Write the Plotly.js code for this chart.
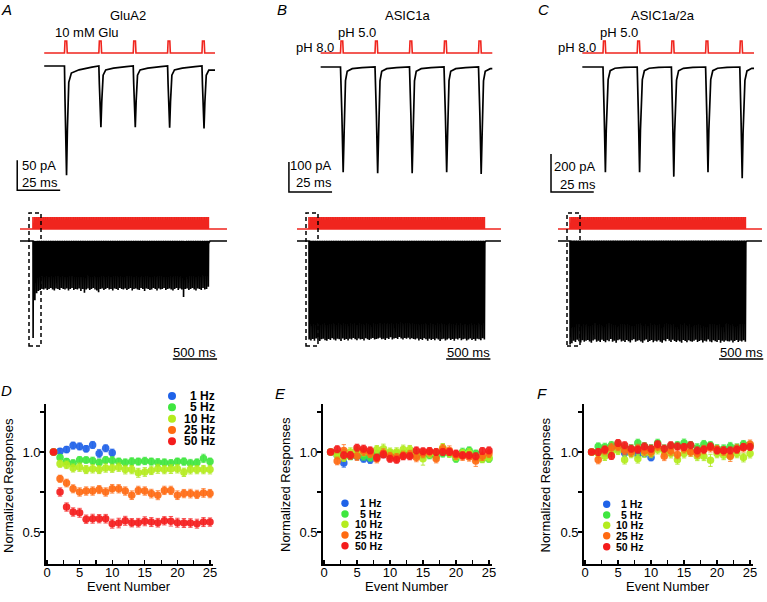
<!DOCTYPE html>
<html><head><meta charset="utf-8">
<script src="https://cdn.plot.ly/plotly-3.0.1.min.js"></script>
<style>html,body{margin:0;padding:0;background:#fff}#chart{width:767px;height:602px}</style>
</head><body><div id="chart"></div>
<script>
// ===================== DATA =====================
const eventNumber = [1,2,3,4,5,6,7,8,9,10,11,12,13,14,15,16,17,18,19,20,21,22,23,24,25];
const eventNumber1Hz = [1,2,3,4,5,6,7,8,9,10];
const freqLabels = ['1 Hz','5 Hz','10 Hz','25 Hz','50 Hz'];
const xTickVals = [0,2.5,5,7.5,10,12.5,15,17.5,20,22.5,25];
const xTickText = ['0','','5','','10','','15','','20','','25'];
const yTickVals = [0.5,0.75,1.0,1.25];
const yTickText = ['0.5','','1.0',''];

// Panel D: GluA2 normalized responses
const D_1Hz  = [1.00,1.004,1.015,1.04,1.035,1.02,1.044,0.99,1.023,0.996];
const D_5Hz  = [1.00,0.965,0.94,0.93,0.95,0.95,0.946,0.935,0.95,0.947,0.94,0.935,0.94,0.94,0.944,0.94,0.935,0.935,0.93,0.94,0.94,0.93,0.935,0.96,0.94];
const D_10Hz = [1.00,0.927,0.92,0.90,0.905,0.89,0.895,0.89,0.90,0.898,0.905,0.89,0.89,0.87,0.875,0.885,0.895,0.89,0.893,0.895,0.873,0.89,0.89,0.89,0.89];
const D_25Hz = [1.00,0.833,0.806,0.77,0.75,0.756,0.756,0.765,0.75,0.77,0.77,0.756,0.73,0.76,0.756,0.74,0.73,0.76,0.76,0.73,0.74,0.74,0.735,0.744,0.74];
const D_50Hz = [1.00,0.75,0.656,0.625,0.62,0.58,0.583,0.583,0.583,0.552,0.556,0.57,0.558,0.558,0.567,0.562,0.558,0.57,0.567,0.558,0.556,0.556,0.552,0.562,0.562];
const D_1Hz_err  = [0,0.018,0.02,0.022,0.022,0.02,0.022,0.026,0.022,0.022];
const D_5Hz_err  = [0,0.02,0.02,0.022,0.022,0.02,0.022,0.021,0.022,0.024,0.022,0.022,0.024,0.022,0.023,0.022,0.024,0.022,0.023,0.022,0.023,0.024,0.022,0.026,0.022];
const D_10Hz_err = [0,0.022,0.024,0.025,0.026,0.025,0.026,0.025,0.026,0.025,0.026,0.027,0.026,0.028,0.027,0.026,0.028,0.026,0.027,0.026,0.026,0.027,0.026,0.026,0.027];
const D_25Hz_err = [0,0.022,0.024,0.025,0.026,0.026,0.026,0.025,0.026,0.027,0.026,0.026,0.027,0.026,0.026,0.027,0.028,0.026,0.026,0.027,0.026,0.027,0.026,0.027,0.026];
const D_50Hz_err = [0,0.026,0.026,0.026,0.028,0.026,0.028,0.026,0.027,0.028,0.03,0.028,0.026,0.027,0.028,0.028,0.027,0.026,0.03,0.028,0.028,0.027,0.028,0.028,0.026];

// Panel E: ASIC1a normalized responses
const E_1Hz  = [1.0,0.98,0.931,0.975,0.973,0.958,0.952,0.975,0.985,0.99];
const E_5Hz  = [1.0,0.99,0.994,0.973,0.979,0.973,0.965,0.99,0.99,0.99,0.99,0.99,0.99,0.979,0.979,0.979,0.973,0.99,0.99,0.958,1.0,1.01,0.99,0.958,0.958];
const E_10Hz = [1.0,0.979,0.965,1.0,1.01,1.0,0.994,1.015,1.021,1.0,1.0,1.015,1.015,0.99,0.958,0.99,0.994,1.027,0.994,0.973,0.99,0.994,0.965,0.958,0.965];
const E_25Hz = [1.0,0.944,1.01,0.979,0.973,1.004,0.99,0.958,0.994,0.973,0.965,0.979,0.985,0.965,0.99,1.0,0.958,1.021,1.01,0.979,0.973,0.969,0.944,0.973,0.99];
const E_50Hz = [1.0,1.017,0.979,0.979,1.027,1.021,1.01,0.965,0.985,0.958,0.952,0.973,0.973,1.01,1.004,1.006,1.0,1.0,1.0,0.99,0.979,0.979,0.973,1.006,1.01];
const E_1Hz_err  = [0,0.02,0.026,0.02,0.022,0.022,0.024,0.022,0.02,0.02];
const E_5Hz_err  = [0,0.02,0.022,0.022,0.022,0.024,0.022,0.022,0.022,0.024,0.022,0.022,0.024,0.022,0.022,0.022,0.024,0.022,0.022,0.022,0.024,0.022,0.022,0.022,0.022];
const E_10Hz_err = [0,0.022,0.024,0.026,0.026,0.025,0.026,0.025,0.028,0.025,0.026,0.028,0.026,0.025,0.04,0.026,0.025,0.026,0.027,0.026,0.025,0.027,0.026,0.025,0.026];
const E_25Hz_err = [0,0.024,0.036,0.025,0.026,0.026,0.025,0.026,0.026,0.025,0.026,0.026,0.025,0.026,0.026,0.025,0.026,0.026,0.028,0.025,0.026,0.026,0.034,0.026,0.025];
const E_50Hz_err = [0,0.022,0.022,0.022,0.022,0.022,0.022,0.022,0.022,0.022,0.022,0.022,0.022,0.022,0.022,0.022,0.022,0.022,0.022,0.022,0.022,0.022,0.022,0.022,0.022];

// Panel F: ASIC1a/2a normalized responses
const F_1Hz  = [1.0,1.0,0.994,1.027,1.021,0.994,1.0,0.985,0.99,0.965];
const F_5Hz  = [1.0,1.035,1.031,1.042,1.048,1.027,1.021,1.056,1.035,1.021,1.056,1.021,1.035,1.042,1.056,1.042,1.027,1.048,1.042,1.021,1.021,1.035,1.027,1.048,1.042];
const F_10Hz = [1.0,0.99,0.973,1.0,1.01,0.952,0.99,0.958,0.994,0.99,1.015,1.0,0.99,0.952,0.99,1.0,0.973,0.973,0.948,0.99,0.979,0.979,0.99,0.965,0.99];
const F_25Hz = [1.0,0.952,1.01,1.027,1.035,1.01,1.0,1.021,1.006,1.0,1.035,0.973,1.006,0.985,1.021,1.0,0.99,1.015,1.027,1.015,1.006,0.973,1.021,1.027,1.048];
const F_50Hz = [1.0,1.0,1.015,0.975,1.056,1.042,1.021,1.015,1.035,1.021,1.048,1.021,1.042,1.035,1.031,1.042,1.01,1.015,1.035,1.01,1.01,1.01,1.015,1.031,1.031];
const F_1Hz_err  = [0,0.02,0.022,0.02,0.022,0.022,0.022,0.022,0.02,0.02];
const F_5Hz_err  = [0,0.022,0.024,0.024,0.025,0.024,0.025,0.024,0.024,0.025,0.024,0.024,0.025,0.024,0.025,0.024,0.025,0.024,0.024,0.025,0.024,0.025,0.024,0.024,0.025];
const F_10Hz_err = [0,0.024,0.026,0.027,0.026,0.027,0.026,0.027,0.027,0.026,0.027,0.026,0.027,0.028,0.027,0.026,0.027,0.027,0.038,0.026,0.027,0.027,0.026,0.027,0.027];
const F_25Hz_err = [0,0.026,0.027,0.027,0.027,0.026,0.027,0.027,0.026,0.027,0.027,0.027,0.026,0.027,0.027,0.026,0.027,0.027,0.027,0.026,0.027,0.032,0.027,0.027,0.027];
const F_50Hz_err = [0,0.022,0.022,0.022,0.022,0.022,0.022,0.022,0.022,0.022,0.022,0.022,0.022,0.022,0.022,0.022,0.022,0.022,0.022,0.022,0.022,0.022,0.022,0.022,0.022];

// Example current traces (top row): stimulus onsets (ms), peak currents (pA)
const pulseOnsetsTop = [0,20,40,60,80];
const peaksGluA2  = [182,102,102,103,104];
const peaksASIC1a = [351,354,354,351,357];
const peaksASIC12 = [554,554,577,554,586];
// normalized response waveforms (ms after onset, fraction of peak)
const shapeGluA2_t  = [0,0.3,1.2,1.7,2.0,2.5,4.0,8.5,16,19.5];
const shapeGluA2_f  = [0,0.3,1,0.58,0.3,0.15,0.065,0.035,0.01,0];
const shapeASIC1a_t = [0,0.8,1.55,2.1,2.5,2.9,3.9,6.8,12.5,19.5];
const shapeASIC1a_f = [0,0.45,1,0.63,0.32,0.13,0.04,0.016,0.006,0];
const shapeASIC12_t = [0,0.7,1.4,1.9,2.4,3.0,4.2,7,12.5,19.5];
const shapeASIC12_f = [0,0.45,1,0.6,0.3,0.12,0.035,0.012,0.004,0];
const stimShape_t = [0,0.3,1.3,1.6];
const stimShape_f = [0,1,1,0];
const topWindow = {A:[-11.8,87.6], B:[-11.5,88], C:[-12.1,88.3]};

// 2-s trains (middle row): 50 Hz, 100 pulses
const trainFreqHz = 50, trainPulses = 100;
const trainPeaksGluA2 = [
 182,111,98,94,92,90,91,89,92,90, 88,91,93,89,90,92,88,90,91,89,
 93,90,88,92,90,91,89,94,90,97, 91,89,92,90,88,91,93,96,90,89,
 92,90,88,91,90,93,89,90,92,88, 90,91,89,92,90,88,93,90,89,91,
 92,88,90,94,89,90,92,91,88,90, 93,89,91,90,88,92,90,89,91,93,
 90,88,92,89,91,105,90,89,92,90, 88,91,93,89,90,92,88,91,90,86];
const trainPeaksASIC1a = [
 352,355,350,356,348,353,357,351,349,354, 356,350,353,347,352,355,349,351,357,348,
 353,350,355,349,352,346,351,354,348,352, 350,355,347,351,353,349,346,352,350,348,
 345,351,349,353,347,350,344,352,348,346, 350,343,348,352,346,349,345,351,347,350,
 352,348,355,350,353,347,351,356,349,353, 350,354,348,352,357,351,349,355,352,348,
 353,350,356,349,352,347,354,351,349,355, 352,348,353,350,356,349,351,354,347,352];
const trainPeaksASIC12 = [
 582,575,560,568,555,563,570,558,566,561, 556,564,571,559,553,566,560,568,555,562,
 569,557,563,551,566,560,572,558,554,565, 561,568,556,563,570,558,552,566,561,557,
 564,571,559,553,567,562,556,569,560,565, 558,566,572,557,563,550,561,568,555,562,
 567,559,564,571,556,562,569,557,563,566, 560,555,568,562,557,570,561,565,553,564,
 569,558,563,567,556,572,560,566,559,563, 565,559,570,562,556,568,561,564,557,566];
const midWindow = {A:[-146.9,2192], B:[-135.6,2169], C:[-135.6,2169]};

// ===================== HELPERS =====================
const W = 767, H = 602;
const FONT = 'Liberation Sans, Arial, Helvetica, sans-serif';
const fx = p => p / W;
const fy = p => 1 - p / H;
const domX = (a, b) => [fx(a), fx(b)];
const domY = (top, bottom) => [fy(bottom), fy(top)];
const colors = ['#1f62e8','#3fe63f','#b4ec1e','#ff6a12','#f41c1c'];
const errColors = ['rgba(31,98,232,0.75)','rgba(63,230,63,0.75)','rgba(170,230,30,0.85)','rgba(255,106,18,0.75)','rgba(244,28,28,0.75)'];

function waveform(onsets, amps, shT, shF, win, sign) {
  const x = [win[0]], y = [0];
  onsets.forEach((t0, i) => {
    shT.forEach((dt, j) => {
      if (t0 + dt < win[1]) { x.push(t0 + dt); y.push(sign * amps[i] * shF[j]); }
    });
  });
  x.push(win[1]); y.push(y[y.length - 1]);
  return {x, y};
}

const traces = [];
const layout = {
  width: W, height: H, margin: {l:0, r:0, t:0, b:0}, showlegend: false,
  paper_bgcolor: '#fff', plot_bgcolor: 'rgba(0,0,0,0)',
  font: {family: FONT, size: 13, color: '#000'},
  shapes: [], annotations: []
};
function ann(text, x, y, o) {
  layout.annotations.push(Object.assign({text, x: fx(x), y: fy(y), xref:'paper', yref:'paper',
    showarrow:false, xanchor:'center', yanchor:'middle', font:{family:FONT, size:13, color:'#000'}}, o || {}));
}
function hidden(domain, range, anchor) {
  return {domain, range, anchor, visible:false, fixedrange:true, showgrid:false, zeroline:false};
}

// ===================== BOTTOM SCATTER PANELS =====================
const panels = [
  {n:'', xd:[45.7,212.6], data:[D_1Hz,D_5Hz,D_10Hz,D_25Hz,D_50Hz], err:[D_1Hz_err,D_5Hz_err,D_10Hz_err,D_25Hz_err,D_50Hz_err]},
  {n:'2', xd:[322.7,491.6], data:[E_1Hz,E_5Hz,E_10Hz,E_25Hz,E_50Hz], err:[E_1Hz_err,E_5Hz_err,E_10Hz_err,E_25Hz_err,E_50Hz_err]},
  {n:'3', xd:[583.7,752.7], data:[F_1Hz,F_5Hz,F_10Hz,F_25Hz,F_50Hz], err:[F_1Hz_err,F_5Hz_err,F_10Hz_err,F_25Hz_err,F_50Hz_err]}
];
panels.forEach(p => {
  layout['xaxis' + p.n] = {domain: domX(p.xd[0], p.xd[1]), range:[-0.2,25.4], anchor:'y' + p.n,
    tickvals:xTickVals, ticktext:xTickText, ticks:'inside', ticklen:4, tickwidth:1.2, tickcolor:'#000',
    ticklabelstandoff:-4,
    showline:true, linewidth:1.5, linecolor:'#000', showgrid:false, zeroline:false,
    tickfont:{family:FONT, size:13}, fixedrange:true};
  layout['yaxis' + p.n] = {domain: domY(404, 564), range:[0.3,1.3], anchor:'x' + p.n,
    tickvals:yTickVals, ticktext:yTickText, ticks:'outside', ticklen:4, tickwidth:1.2, tickcolor:'#000',
    ticklabelstandoff:-3,
    showline:true, linewidth:1.5, linecolor:'#000', showgrid:false, zeroline:false,
    tickfont:{family:FONT, size:13}, fixedrange:true};
  p.data.forEach((vals, k) => {
    traces.push({type:'scatter', mode:'markers', xaxis:'x' + p.n, yaxis:'y' + p.n,
      x: k === 0 ? eventNumber1Hz : eventNumber, y: vals, name: freqLabels[k],
      marker:{color:colors[k], size:7.5, opacity:0.92, line:{width:0}},
      error_y:{type:'data', array:p.err[k], visible:true, color:errColors[k], thickness:1, width:2.2},
      cliponaxis:false});
  });
});

// legends (swatches + labels)
const legendSpecs = [
  {mx:172, rows:[396,407.3,418.7,430,441.3], tx:216, size:12, r:4},
  {mx:345, rows:[503.3,514,524.3,535,545.7], tx:383, size:10.5, r:3.7},
  {mx:606.7, rows:[504.3,515,525.3,535.7,546.7], tx:644, size:10.5, r:3.7}
];
legendSpecs.forEach(L => {
  freqLabels.forEach((lab, k) => {
    const cy = L.rows[k];
    layout.shapes.push({type:'circle', xref:'paper', yref:'paper',
      x0:fx(L.mx - L.r), x1:fx(L.mx + L.r), y0:fy(cy + L.r), y1:fy(cy - L.r),
      fillcolor:colors[k], line:{width:0}});
    ann('<b>' + lab + '</b>', L.tx, cy, {xanchor:'right', borderpad:0, font:{family:FONT, size:L.size, color:'#000'}});
  });
});

// axis titles + panel letters for bottom row
[[8,486,129.2],[285,485,407.1],[544.5,485,668.2]].forEach(([yx, yy, xc]) => {
  ann('Normalized Responses', yx, yy, {textangle:-90});
  ann('Event Number', xc, 586);
});
ann('<i>D</i>', 6.7, 390.5, {font:{family:FONT, size:15, color:'#000'}});
ann('<i>E</i>', 280.7, 393.5, {font:{family:FONT, size:15, color:'#000'}});
ann('<i>F</i>', 541.7, 393.3, {font:{family:FONT, size:15, color:'#000'}});

// ===================== TOP ROW: EXAMPLE TRACES =====================
const topPanels = [
  {xa:'4', yc:'4', ys:'5', xd:[10,220], xr:[-31.7,90.5], yr:[-216.7,13.3], peaks:peaksGluA2, shT:shapeGluA2_t, shF:shapeGluA2_f, win:topWindow.A,
   bar:{x:-27.5, y:-207, pA:50, ms:25}},
  {xa:'5', yc:'6', ys:'7', xd:[280,500], xr:[-35.07,92.46], yr:[-430,30], peaks:peaksASIC1a, shT:shapeASIC1a_t, shF:shapeASIC1a_f, win:topWindow.B,
   bar:{x:-29.9, y:-416.7, pA:100, ms:25}},
  {xa:'6', yc:'8', ys:'9', xd:[540,762], xr:[-36.84,92.98], yr:[-678.9,47.4], peaks:peaksASIC12, shT:shapeASIC12_t, shF:shapeASIC12_f, win:topWindow.C,
   bar:{x:-30.4, y:-657.9, pA:200, ms:25}}
];
topPanels.forEach(p => {
  layout['xaxis' + p.xa] = hidden(domX(p.xd[0], p.xd[1]), p.xr, 'y' + p.yc);
  layout['yaxis' + p.yc] = hidden(domY(58,196), p.yr, 'x' + p.xa);
  layout['yaxis' + p.ys] = hidden(domY(37,57), [-0.333,1.333], 'x' + p.xa);
  const st = waveform(pulseOnsetsTop, pulseOnsetsTop.map(() => 1), stimShape_t, stimShape_f, p.win, 1);
  traces.push({type:'scatter', mode:'lines', x:st.x, y:st.y, xaxis:'x' + p.xa, yaxis:'y' + p.ys,
    line:{color:'#f0251e', width:1.6}, hoverinfo:'skip'});
  const cur = waveform(pulseOnsetsTop, p.peaks, p.shT, p.shF, p.win, -1);
  traces.push({type:'scatter', mode:'lines', x:cur.x, y:cur.y, xaxis:'x' + p.xa, yaxis:'y' + p.yc,
    line:{color:'#000', width:1.7}, hoverinfo:'skip'});
  const b = p.bar;
  layout.shapes.push({type:'path', xref:'x' + p.xa, yref:'y' + p.yc,
    path:`M ${b.x},${b.y + b.pA} L ${b.x},${b.y} L ${b.x + b.ms},${b.y}`, line:{color:'#000', width:1.5}});
});
// top labels
ann('<i>A</i>', 7, 9.5, {font:{family:FONT, size:15, color:'#000'}});
ann('<i>B</i>', 281.7, 9.5, {font:{family:FONT, size:15, color:'#000'}});
ann('<i>C</i>', 543, 9.5, {font:{family:FONT, size:15, color:'#000'}});
ann('GluA2', 128, 15.5);
ann('ASIC1a', 407.5, 15.5);
ann('ASIC1a/2a', 663.3, 15.5);
ann('10 mM Glu', 86.7, 33);
ann('pH 5.0', 357.3, 32.5);
ann('pH 8.0', 314.5, 48);
ann('pH 5.0', 619, 32.7);
ann('pH 8.0', 577, 48);
ann('50 pA', 58.3, 166, {xanchor:'right'});
ann('25 ms', 60, 183, {xanchor:'right'});
ann('100 pA', 334, 166, {xanchor:'right'});
ann('25 ms', 334, 183, {xanchor:'right'});
ann('200 pA', 598, 166.5, {xanchor:'right'});
ann('25 ms', 598, 184, {xanchor:'right'});

// ===================== MIDDLE ROW: 2-s TRAINS =====================
const trainOnsets = [];
for (let i = 0; i < trainPulses; i++) trainOnsets.push(i * 1000 / trainFreqHz);
const midPanels = [
  {xa:'7', yc:'10', ys:'11', xd:[15,228], xr:[-203.4,2203.4], yr:[-227,9.4], peaks:trainPeaksGluA2, shT:shapeGluA2_t, shF:shapeGluA2_f, win:midWindow.A,
   bar:[1580,2080], box:[29,41]},
  {xa:'8', yc:'12', ys:'13', xd:[290,506], xr:[-214.7,2226], yr:[-432,17.9], peaks:trainPeaksASIC1a, shT:shapeASIC1a_t, shF:shapeASIC1a_f, win:midWindow.B,
   bar:[1550,2050], box:[306,318]},
  {xa:'9', yc:'14', ys:'15', xd:[551,766], xr:[-214.7,2214.7], yr:[-679.8,28.1], peaks:trainPeaksASIC12, shT:shapeASIC12_t, shF:shapeASIC12_f, win:midWindow.C,
   bar:[1684,2184], box:[567,580]}
];
midPanels.forEach(p => {
  layout['xaxis' + p.xa] = hidden(domX(p.xd[0], p.xd[1]), p.xr, 'y' + p.yc);
  layout['yaxis' + p.yc] = hidden(domY(236,362), p.yr, 'x' + p.xa);
  layout['yaxis' + p.ys] = hidden(domY(213,233), [-0.333,1.333], 'x' + p.xa);
  const st = waveform(trainOnsets, trainOnsets.map(() => 1), stimShape_t, stimShape_f, p.win, 1);
  traces.push({type:'scatter', mode:'lines', x:st.x, y:st.y, xaxis:'x' + p.xa, yaxis:'y' + p.ys,
    line:{color:'#f0251e', width:1.72}, hoverinfo:'skip'});
  const cur = waveform(trainOnsets, p.peaks, p.shT, p.shF, p.win, -1);
  traces.push({type:'scatter', mode:'lines', x:cur.x, y:cur.y, xaxis:'x' + p.xa, yaxis:'y' + p.yc,
    line:{color:'#000', width:1.65}, hoverinfo:'skip'});
  // 500 ms scale bar
  layout.shapes.push({type:'line', xref:'x' + p.xa, yref:'paper', x0:p.bar[0], x1:p.bar[1], y0:fy(359), y1:fy(359),
    line:{color:'#000', width:1.5}});
  layout.annotations.push({text:'500 ms', xref:'x' + p.xa, yref:'paper', x:(p.bar[0] + p.bar[1]) / 2, y:fy(352.5),
    showarrow:false, xanchor:'center', yanchor:'middle', font:{family:FONT, size:13, color:'#000'}});
  // dashed box marking the expanded region
  layout.shapes.push({type:'rect', xref:'paper', yref:'paper', x0:fx(p.box[0]), x1:fx(p.box[1]), y0:fy(346), y1:fy(213),
    line:{color:'#000', width:1.5, dash:'4px,3px'}, fillcolor:'rgba(0,0,0,0)'});
});

Plotly.newPlot('chart', traces, layout, {staticPlot:true});
</script>
</body></html>
